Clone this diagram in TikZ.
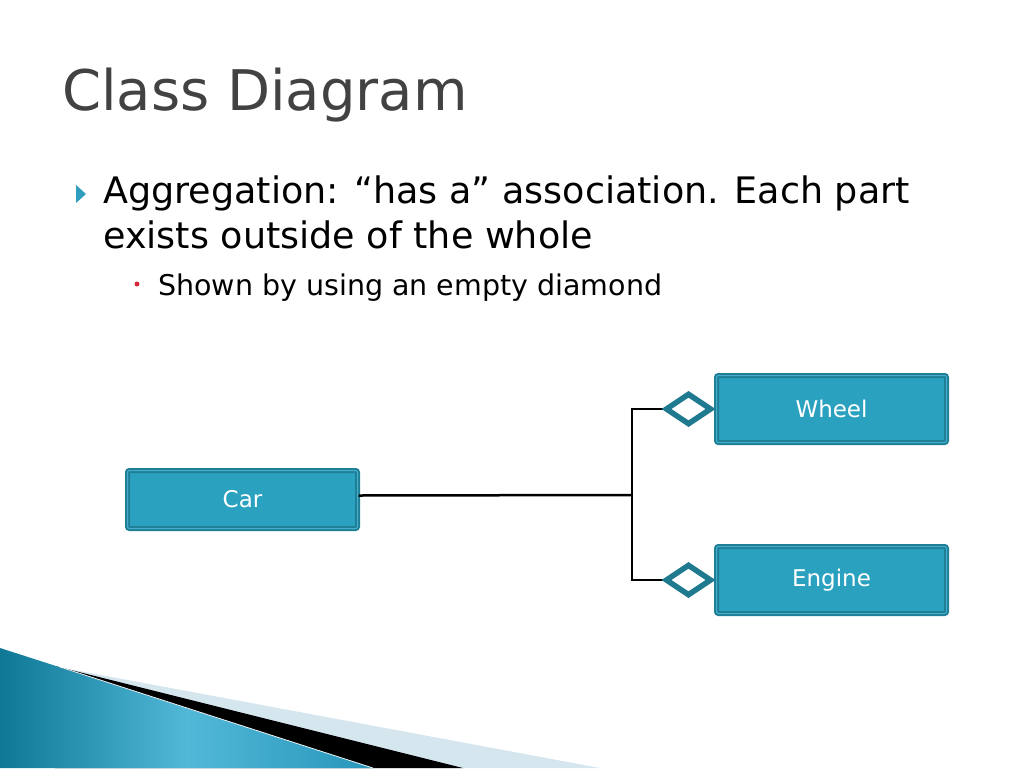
\documentclass[tikz,border=0pt]{standalone}
\usepackage{fontspec}
\setmainfont{DejaVu Sans}
\usetikzlibrary{arrows.meta,positioning}

\definecolor{titlegray}{HTML}{424242}
\definecolor{boxfill}{HTML}{2BA1C0}
\definecolor{boxedge}{HTML}{1F7F97}
\definecolor{boxring}{HTML}{46AECA}
\definecolor{diamc}{HTML}{1F7A8F}
\definecolor{bullettri}{HTML}{2E9DBE}
\definecolor{dotred}{HTML}{D42A3C}
\definecolor{stripe}{HTML}{D5E6EF}
\definecolor{tealdark}{HTML}{0E7896}
\definecolor{teallight}{HTML}{52B8D8}
\definecolor{tealmid}{HTML}{2796BA}

\begin{document}
\begin{tikzpicture}[x=1pt,y=-1pt,
        classbox/.style={draw=boxedge,double=boxring,double distance=1pt,line width=2pt,
          fill=boxfill,rounded corners=2pt,minimum width=230pt,inner sep=0pt,
          text=white,font=\fontsize{23}{26}\selectfont},
        aggr/.style={-{Diamond[open,fill=white,length=54pt,width=36pt,line width=5.5pt,color=diamc]}},
        bodytext/.style={anchor=base west,inner sep=0pt}]

  \useasboundingbox (0,0) rectangle (1024,768);

  % bottom left swoosh
  \fill[stripe] (58,667) -- (600,768) -- (58,768) -- cycle;
  \fill[black] (55,666) -- (463,768) -- (55,768) -- cycle;
  \shade[left color=tealdark,right color=tealmid,middle color=teallight]
    (0,648) -- (373,768) -- (0,768) -- cycle;
  \draw[white!60!stripe,line width=0.8pt] (60,667) -- (373,768);

  % title and text
  \node[bodytext,text=titlegray,font=\fontsize{56}{60}\selectfont] (title) at (62,110) {Class Diagram};

  \fill[bullettri] (76,185) -- (86,194) -- (76,203) -- cycle;
  \node[bodytext,font=\fontsize{36.5}{40}\selectfont] (line1) at (103,203)
    {Aggregation: “has a” association. Each part};
  \node[bodytext,font=\fontsize{36.5}{40}\selectfont] (line2) at (103,248)
    {exists outside of the whole};

  \fill[dotred] (137,284) circle (2.5);
  \node[bodytext,font=\fontsize{28.5}{32}\selectfont] (sub) at (158,295)
    {Shown by using an empty diamond};

  % classes
  \node[classbox,minimum height=58pt] (car) at (242.5,499.5) {Car};
  \node[classbox,minimum height=67pt] (wheel) at (831.5,409) {Wheel};
  \node[classbox,minimum height=67pt,below=102pt of wheel] (engine) {Engine};

  \coordinate (joint) at (632,495);

  \draw[line width=2.5pt] ([yshift=4pt]car.east) -- (joint);
  \draw[line width=2.5pt,aggr] (joint) |- (wheel.west);
  \draw[line width=2.5pt,aggr] (joint) |- (engine.west);

\end{tikzpicture}
\end{document}
